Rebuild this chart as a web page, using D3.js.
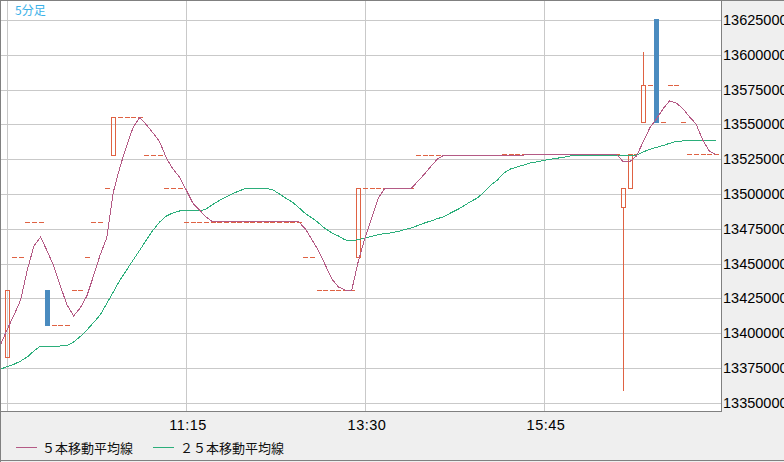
<!DOCTYPE html>
<html><head><meta charset="utf-8">
<script src="https://cdn.jsdelivr.net/npm/d3@7/dist/d3.min.js"></script>
<style>html,body{margin:0;padding:0;background:#fff}svg{display:block}</style>
</head><body>
<svg id="c" width="784" height="462"></svg>
<script>
// ---- data (5-minute bars, index 0 = 9:00) ----
const opens = [
13383000,13455000,13455000,13480000,13480000,13480000,13431000,13406000,13406000,13406000,
13431000,13431000,13455000,13480000,13480000,13504000,13528000,13555000,13555000,13555000,
13555000,13528000,13528000,13528000,13504000,13504000,13504000,13480000,13480000,13480000,
13480000,13480000,13480000,13480000,13480000,13480000,13480000,13480000,13480000,13480000,
13480000,13480000,13480000,13480000,13480000,13455000,13455000,13431000,13431000,13431000,
13431000,13431000,13431000,13455000,13504000,13504000,13504000,13504000,13504000,13504000,
13504000,13504000,13528000,13528000,13528000,13528000,13528000,13528000,13528000,13528000,
13528000,13528000,13528000,13528000,13528000,13528500,13528500,13528500,13528500,13528500,
13528500,13528500,13528500,13528500,13528500,13528500,13528500,13528500,13528500,13528500,
13528500,13528500,13528500,13491000,13504000,13528500,13552000,13578000,13626000,13552000,
13578000,13578000,13552000,13528500,13528500,13528500,13528500,13528500];
const highs = [
13431000,13455000,13455000,13480000,13480000,13480000,13431000,13406000,13406000,13406000,
13431000,13431000,13455000,13480000,13480000,13504000,13555000,13555000,13555000,13555000,
13555000,13528000,13528000,13528000,13504000,13504000,13504000,13480000,13480000,13480000,
13480000,13480000,13480000,13480000,13480000,13480000,13480000,13480000,13480000,13480000,
13480000,13480000,13480000,13480000,13480000,13455000,13455000,13431000,13431000,13431000,
13431000,13431000,13431000,13504000,13504000,13504000,13504000,13504000,13504000,13504000,
13504000,13504000,13528000,13528000,13528000,13528000,13528000,13528000,13528000,13528000,
13528000,13528000,13528000,13528000,13528000,13528500,13528500,13528500,13528500,13528500,
13528500,13528500,13528500,13528500,13528500,13528500,13528500,13528500,13528500,13528500,
13528500,13528500,13528500,13504000,13528500,13528500,13602000,13578000,13626000,13552000,
13578000,13578000,13552000,13528500,13528500,13528500,13528500,13528500];
const lows = [
13383000,13455000,13455000,13480000,13480000,13480000,13406000,13406000,13406000,13406000,
13431000,13431000,13455000,13480000,13480000,13504000,13528000,13555000,13555000,13555000,
13555000,13528000,13528000,13528000,13504000,13504000,13504000,13480000,13480000,13480000,
13480000,13480000,13480000,13480000,13480000,13480000,13480000,13480000,13480000,13480000,
13480000,13480000,13480000,13480000,13480000,13455000,13455000,13431000,13431000,13431000,
13431000,13431000,13431000,13455000,13504000,13504000,13504000,13504000,13504000,13504000,
13504000,13504000,13528000,13528000,13528000,13528000,13528000,13528000,13528000,13528000,
13528000,13528000,13528000,13528000,13528000,13528500,13528500,13528500,13528500,13528500,
13528500,13528500,13528500,13528500,13528500,13528500,13528500,13528500,13528500,13528500,
13528500,13528500,13528500,13359000,13504000,13528500,13552000,13578000,13552000,13552000,
13578000,13578000,13552000,13528500,13528500,13528500,13528500,13528500];
const closes = [
13431000,13455000,13455000,13480000,13480000,13480000,13406000,13406000,13406000,13406000,
13431000,13431000,13455000,13480000,13480000,13504000,13555000,13555000,13555000,13555000,
13555000,13528000,13528000,13528000,13504000,13504000,13504000,13480000,13480000,13480000,
13480000,13480000,13480000,13480000,13480000,13480000,13480000,13480000,13480000,13480000,
13480000,13480000,13480000,13480000,13480000,13455000,13455000,13431000,13431000,13431000,
13431000,13431000,13431000,13504000,13504000,13504000,13504000,13504000,13504000,13504000,
13504000,13504000,13528000,13528000,13528000,13528000,13528000,13528000,13528000,13528000,
13528000,13528000,13528000,13528000,13528000,13528500,13528500,13528500,13528500,13528500,
13528500,13528500,13528500,13528500,13528500,13528500,13528500,13528500,13528500,13528500,
13528500,13528500,13528500,13504000,13528500,13528500,13578000,13578000,13552000,13552000,
13578000,13578000,13552000,13528500,13528500,13528500,13528500,13528500];

// moving averages, first value belongs to bar -1
const maStart = -1;
const ma5 = [
13392200,
13403000,13413100,13423900,13445400,13462600,13469100,13459100,13448300,13433900,13420300,
13412400,13418100,13426700,13441100,13456200,13468400,13501400,13519400,13534500,13548100,
13555000,13549600,13543800,13537400,13525900,13518000,13512200,13502900,13493500,13488500,
13483500,13480000,13480000,13480000,13480000,13480000,13480000,13480000,13480000,13480000,
13480000,13480000,13480000,13480000,13480000,13474900,13467000,13459100,13449000,13438900,
13433200,13431000,13431000,13451900,13468400,13482800,13497100,13504000,13504000,13504000,
13504000,13504000,13509300,13514400,13520100,13525500,13528000,13528000,13528000,13528000,
13528000,13528000,13528000,13528000,13528000,13528000,13528000,13528000,13528000,13528500,
13528500,13528500,13528500,13528500,13528500,13528500,13528500,13528500,13528500,13528500,
13528500,13528500,13528500,13523200,13523200,13527300,13537400,13547400,13553900,13561100,
13567000,13565400,13561400,13555500,13550300,13538800,13530900,13528500];
const ma25 = [
13374300,
13376000,13377700,13380000,13382900,13387200,13390800,13390800,13390800,13390800,13391100,
13393700,13397600,13402300,13407600,13413100,13421300,13429600,13438200,13445400,13452600,
13459800,13467000,13474100,13479900,13484200,13486400,13487800,13487800,13487800,13487800,
13489200,13492500,13495300,13497800,13500300,13502200,13504100,13504100,13504100,13504100,
13503200,13500300,13497100,13494300,13490300,13485900,13482800,13479200,13475100,13472100,
13469800,13467000,13466600,13467200,13468400,13469500,13470800,13471600,13472100,13473100,
13474400,13475600,13477400,13479200,13480700,13482400,13483800,13486600,13488900,13491700,
13494700,13497200,13501400,13506500,13510100,13515100,13518000,13519500,13520800,13522300,
13523100,13524100,13524900,13525700,13526400,13527400,13528000,13528000,13528000,13528000,
13528000,13528000,13528000,13527300,13527300,13528000,13530200,13532100,13533500,13534800,
13536400,13537900,13538100,13538100,13538100,13538100,13538100,13538100];

const yTicks = [13350000,13375000,13400000,13425000,13450000,13475000,13500000,13525000,13550000,13575000,13600000,13625000];
const xTickBars = [0,27,54,81];
const xTickLabels = ["","11:15","13:30","15:45"];
const seriesNames = ["５本移動平均線","２５本移動平均線"];
const periodLabel = "5分足";

// ---- styles ----
const C = {up:"#df6243", down:"#4a8bbf", ma5:"#b45a85", ma25:"#2bae7a", grid:"#c9c9c9", border:"#808080", panel:"#efefef", period:"#3ab1e8"};

// ---- scales ----
const x = d3.scaleLinear().domain([0,81]).range([7.4, 7.4 + 81*6.622]);
const y = d3.scaleLinear().domain([13350000,13625000]).range([402.8,20]);
const px = v => Math.round(v);

const svg = d3.select("#c");
svg.append("rect").attr("width",784).attr("height",462).attr("fill","#fff");
svg.append("rect").attr("x",722).attr("y",0).attr("width",62).attr("height",462).attr("fill",C.panel);
svg.append("rect").attr("x",0).attr("y",412).attr("width",784).attr("height",50).attr("fill",C.panel);

svg.append("defs").append("clipPath").attr("id","plot")
  .append("rect").attr("x",1).attr("y",1).attr("width",721).attr("height",411);

const g = svg.append("g").attr("clip-path","url(#plot)").attr("shape-rendering","crispEdges");

// grid
g.selectAll(".hg").data(yTicks).join("line")
  .attr("x1",1).attr("x2",722)
  .attr("y1",d=>px(y(d))+0.5).attr("y2",d=>px(y(d))+0.5)
  .attr("stroke",C.grid);
g.selectAll(".vg").data(xTickBars).join("line")
  .attr("x1",d=>px(x(d))+0.5).attr("x2",d=>px(x(d))+0.5)
  .attr("y1",1).attr("y2",412)
  .attr("stroke",C.grid);

// candles
const bars = closes.map((c,i)=>({i,o:opens[i],h:highs[i],l:lows[i],c}));
const cg = g.append("g");
bars.forEach(b=>{
  const cx = px(x(b.i));
  const col = b.c < b.o ? C.down : C.up;
  const yTop = px(y(Math.max(b.o,b.c))), yBot = px(y(Math.min(b.o,b.c)));
  const yh = px(y(b.h)), yl = px(y(b.l));
  if (yh < yTop) cg.append("line").attr("x1",cx+0.5).attr("x2",cx+0.5).attr("y1",yh).attr("y2",yTop).attr("stroke",col);
  if (yl > yBot) cg.append("line").attr("x1",cx+0.5).attr("x2",cx+0.5).attr("y1",yBot).attr("y2",yl+1).attr("stroke",col);
  if (b.o === b.c) {
    cg.append("line").attr("x1",cx-2).attr("x2",cx+3).attr("y1",yTop+0.5).attr("y2",yTop+0.5).attr("stroke",col);
  } else if (b.c > b.o) {
    cg.append("rect").attr("x",cx-1.5).attr("y",yTop+0.5).attr("width",4).attr("height",yBot-yTop)
      .attr("fill","none").attr("stroke",col);
  } else {
    cg.append("rect").attr("x",cx-2).attr("y",yTop).attr("width",5).attr("height",yBot-yTop+1).attr("fill",col);
  }
});

// moving averages
const line = d3.line().x((d,i)=>x(i+maStart)).y(d=>y(d));
g.append("path").datum(ma25).attr("d",line).attr("fill","none").attr("stroke",C.ma25).attr("stroke-width",1);
g.append("path").datum(ma5).attr("d",line).attr("fill","none").attr("stroke",C.ma5).attr("stroke-width",1);

// borders
const bl = svg.append("g").attr("shape-rendering","crispEdges").attr("stroke",C.border);
bl.append("line").attr("x1",0).attr("x2",784).attr("y1",0.5).attr("y2",0.5);
bl.append("line").attr("x1",0.5).attr("x2",0.5).attr("y1",0).attr("y2",462);
bl.append("line").attr("x1",0).attr("x2",784).attr("y1",460.5).attr("y2",460.5);
bl.append("line").attr("x1",0).attr("x2",722).attr("y1",411.5).attr("y2",411.5);
bl.append("line").attr("x1",721.5).attr("x2",721.5).attr("y1",0).attr("y2",412);

// y labels (right panel)
svg.selectAll(".yl").data(yTicks).join("text")
  .attr("x",723).attr("y",d=>px(y(d))+4.5)
  .attr("font-family","'Liberation Sans',Arial,sans-serif").attr("font-size","14.5px").attr("fill","#000")
  .text(d=>d3.format("d")(d));

// time labels
svg.selectAll(".xl").data(xTickBars).join("text")
  .attr("x",d=>px(x(d))+2).attr("y",430)
  .attr("text-anchor","middle").attr("letter-spacing","0.5px")
  .attr("font-family","'Liberation Sans',Arial,sans-serif").attr("font-size","14.5px").attr("fill","#000")
  .text((d,i)=>xTickLabels[i]);

// period label
svg.append("text").attr("x",15).attr("y",15)
  .attr("font-family","'Noto Sans CJK JP',sans-serif").attr("font-size","12px").attr("fill",C.period)
  .text(periodLabel);

// legend
const leg = [{name:seriesNames[0],col:C.ma5,lx:16,tx:42},{name:seriesNames[1],col:C.ma25,lx:153,tx:180}];
leg.forEach(l=>{
  svg.append("line").attr("x1",l.lx).attr("x2",l.lx+21).attr("y1",447.5).attr("y2",447.5)
    .attr("stroke",l.col).attr("shape-rendering","crispEdges");
  svg.append("text").attr("x",l.tx).attr("y",452.5)
    .attr("font-family","'Noto Sans CJK JP',sans-serif").attr("font-size","13px").attr("fill","#111")
    .text(l.name);
});
</script>
</body></html>
